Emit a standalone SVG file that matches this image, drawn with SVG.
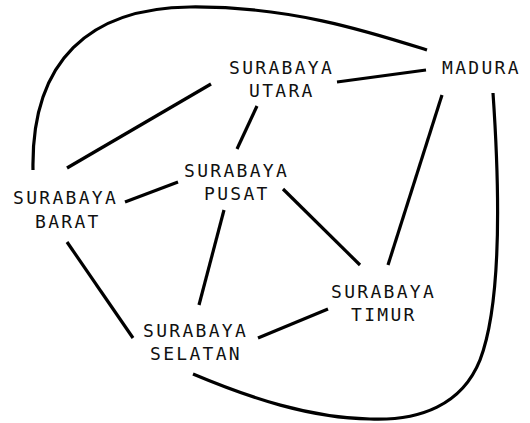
<svg xmlns="http://www.w3.org/2000/svg" width="530" height="423" viewBox="0 0 530 423">
<style>
.c{fill:none;stroke:#000;stroke-width:3.2;stroke-linecap:butt}
text{font-family:"DejaVu Sans Mono","Liberation Mono",monospace;font-size:18px;letter-spacing:2.3px;fill:#111}
</style>
<rect width="530" height="423" fill="#fff"/>
<g id="connectors">
<path class="c" d="M33,170 C31,60 90,8 190,7 C290,6 370,32 427,50"/>
<path class="c" d="M337,82 L426,70"/>
<path class="c" d="M211,84 L67,168"/>
<path class="c" d="M257,106 L237,149"/>
<path class="c" d="M442,95 L388,265"/>
<path class="c" d="M493,93 C499,180 503,300 480,360 C462,405 420,421 370,419 C310,418 250,398 193,374"/>
<path class="c" d="M178,182 L125,202"/>
<path class="c" d="M283,189 L360,265"/>
<path class="c" d="M224,210 L199,305"/>
<path class="c" d="M67,242 L133,338"/>
<path class="c" d="M258,338 L328,309"/>
</g>
<g id="madura"><text x="442" y="74">MADURA</text></g>
<g id="utara"><text x="229" y="74">SURABAYA</text><text x="249" y="97">UTARA</text></g>
<g id="pusat"><text x="184" y="177">SURABAYA</text><text x="204" y="200">PUSAT</text></g>
<g id="barat"><text x="13" y="204">SURABAYA</text><text x="35" y="228">BARAT</text></g>
<g id="timur"><text x="331" y="298">SURABAYA</text><text x="351" y="321">TIMUR</text></g>
<g id="selatan"><text x="143" y="337">SURABAYA</text><text x="150" y="360">SELATAN</text></g>
</svg>
